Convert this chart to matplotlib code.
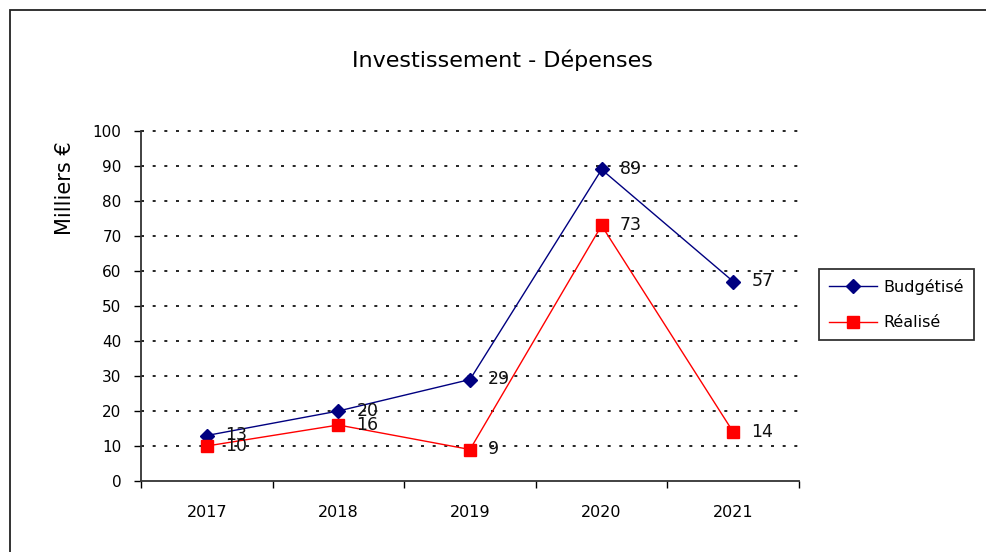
import matplotlib
matplotlib.use("Agg")
import matplotlib.pyplot as plt
from matplotlib.patches import Rectangle
import numpy as np

years = ["2017", "2018", "2019", "2020", "2021"]
budgetise = [13, 20, 29, 89, 57]
realise = [10, 16, 9, 73, 14]
series_names = ["Budgétisé", "Réalisé"]
title = "Investissement - Dépenses"
ylabel = "Milliers €"

plt.rcParams['font.family'] = ['DejaVu Sans']

fig = plt.figure(figsize=(9.86, 5.52), dpi=100)
fig.patch.set_facecolor("white")

# outer frame (only top and left visible in the crop)
fig.patches.append(Rectangle((10/986, -0.2), 1.2, 1.2 - 10/552, transform=fig.transFigure,
                             fill=False, edgecolor="#222222", linewidth=1.3, zorder=0))

ax = fig.add_axes([141/986, 1 - 481/552, (799 - 141)/986, (481 - 131)/552])
x = np.arange(len(years))

ax.plot(x, budgetise, color="#000080", marker="D", markersize=7, linewidth=1,
        label=series_names[0], zorder=3)
ax.plot(x, realise, color="#FF0000", marker="s", markersize=9, linewidth=1,
        label=series_names[1], zorder=3)

for xi, v in zip(x, budgetise):
    ax.annotate(str(v), (xi, v), xytext=(13, 0), textcoords="offset points",
                va="center", ha="left", fontsize=12.5, color="#111111")
for xi, v in zip(x, realise):
    ax.annotate(str(v), (xi, v), xytext=(13, 0), textcoords="offset points",
                va="center", ha="left", fontsize=12.5, color="#111111")

ax.set_xlim(-0.5, len(years) - 0.5)
ax.set_ylim(0, 100)
ax.set_yticks(np.arange(0, 101, 10))
ax.set_xticks(np.arange(-0.5, len(years), 1.0))
ax.set_xticklabels([])
ax.set_xticks(x, minor=True)
ax.set_xticklabels(years, minor=True)
ax.tick_params(axis="x", which="major", direction="out", length=5, width=1)
ax.tick_params(axis="x", which="minor", length=0, pad=17, labelsize=11.5)
ax.tick_params(axis="y", direction="out", length=5, width=1, labelsize=11, pad=9)

for s in ["top", "right"]:
    ax.spines[s].set_visible(False)
for s in ["left", "bottom"]:
    ax.spines[s].set_linewidth(1.3)
    ax.spines[s].set_color("#333333")

for yv in np.arange(10, 101, 10):
    ax.axhline(yv, color="black", linewidth=1.2, linestyle=(0, (1.8, 5.2)),
               zorder=1, clip_on=False)

ax.set_ylabel(ylabel, fontsize=15)
ax.yaxis.set_label_coords(-(141 - 75) / 658, (481 - 188) / 350)
fig.text(502/986, 1 - 60/552, title, ha="center", va="center", fontsize=16)

leg = ax.legend(loc="upper left", bbox_to_anchor=(819/986, 1 - 269/552),
                bbox_transform=fig.transFigure, frameon=True, fancybox=False,
                edgecolor="black", fontsize=11.5, handlelength=3.0,
                borderpad=0.6, labelspacing=1.3, handletextpad=0.45, borderaxespad=0)
leg.get_frame().set_linewidth(1.3)

fig.savefig("out.png", dpi=100, facecolor="white")
